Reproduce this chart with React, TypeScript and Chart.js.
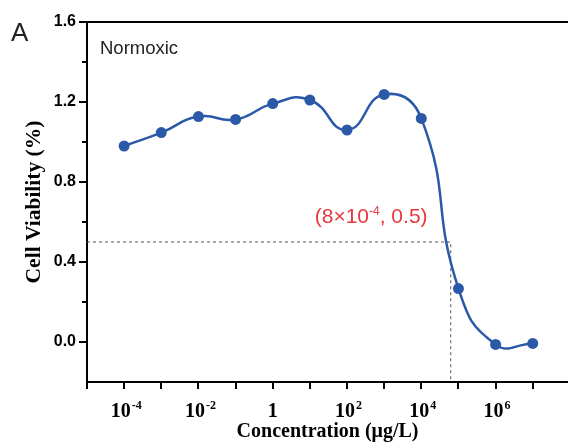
import React, { useEffect, useRef } from 'react';
import { Chart, registerables } from 'chart.js';

Chart.register(...registerables);

// Concentration (µg/L) and cell viability
const concentrations = [1e-4, 1e-3, 1e-2, 1e-1, 1, 1e1, 1e2, 1e3, 1e4, 1e5, 1e6, 1e7];
const viability = [0.98, 1.047, 1.127, 1.113, 1.192, 1.21, 1.06, 1.238, 1.118, 0.267, -0.012, -0.007];

// Axis ticks
const xTickExponents = [-5, -4, -3, -2, -1, 0, 1, 2, 3, 4, 5, 6, 7];
const xLabelExponents = [-4, -2, 0, 2, 4, 6];
const yMajorTicks = [0, 0.4, 0.8, 1.2, 1.6];
const yMinorTicks = [0.2, 0.6, 1.0, 1.4];

// Axis ranges
const xMin = 1e-5;
const xMax = 8.9e7;
const yMin = -0.2;
const yMax = 1.6;

// Half-viability guide
const guideX = 6.2e4;
const guideY = 0.5;

const lineColor = '#2b59a8';
const serifFamily = "'Liberation Serif', 'Times New Roman', serif";
const serifBold = `bold 20px ${serifFamily}`;
const serifSup = `bold 12px ${serifFamily}`;
const sans = "'Liberation Sans', Arial, sans-serif";

const overlayPlugin = {
  id: 'overlay',
  afterDraw(chart: Chart) {
    const { ctx, chartArea, scales } = chart;
    const x = scales.x;
    const y = scales.y;
    ctx.save();

    // top frame line
    ctx.strokeStyle = '#000';
    ctx.lineWidth = 2;
    ctx.beginPath();
    ctx.moveTo(chartArea.left - 1, chartArea.top);
    ctx.lineTo(chartArea.right, chartArea.top);
    ctx.stroke();

    // minor y ticks
    yMinorTicks.forEach((v) => {
      const py = Math.round(y.getPixelForValue(v));
      ctx.beginPath();
      ctx.moveTo(chartArea.left - 5, py);
      ctx.lineTo(chartArea.left, py);
      ctx.stroke();
    });

    // x tick labels with superscript exponents
    ctx.fillStyle = '#000';
    ctx.textBaseline = 'alphabetic';
    const base = chartArea.bottom + 35;
    xLabelExponents.forEach((e) => {
      const px = x.getPixelForValue(Math.pow(10, e));
      if (e === 0) {
        ctx.font = serifBold;
        ctx.textAlign = 'center';
        ctx.fillText('1', px, base);
        return;
      }
      const exp = String(e);
      ctx.textAlign = 'left';
      ctx.font = serifBold;
      const w1 = ctx.measureText('10').width;
      ctx.font = serifSup;
      const w2 = ctx.measureText(exp).width;
      const start = px - w1 / 2 - w2 / 3;
      ctx.font = serifBold;
      ctx.fillText('10', start, base);
      ctx.font = serifSup;
      ctx.fillText(exp, start + w1 + 1, base - 8);
    });

    // guide annotation
    const gx = x.getPixelForValue(guideX);
    const gy = y.getPixelForValue(guideY);
    ctx.fillStyle = '#e8383d';
    ctx.textAlign = 'left';
    let tx = gx - 136;
    const ty = gy - 19;
    ctx.font = `21px ${sans}`;
    ctx.fillText('(8×10', tx, ty);
    tx += ctx.measureText('(8×10').width;
    ctx.font = `12px ${sans}`;
    ctx.fillText('-4', tx, ty - 8);
    tx += ctx.measureText('-4').width;
    ctx.font = `21px ${sans}`;
    ctx.fillText(', 0.5)', tx, ty);

    // condition label and panel letter
    ctx.fillStyle = '#222';
    ctx.font = `18.5px ${sans}`;
    ctx.fillText('Normoxic', chartArea.left + 13, chartArea.top + 32);
    ctx.font = `26px ${sans}`;
    ctx.fillText('A', 11, 41);

    ctx.restore();
  },
};

export default function App() {
  const canvasRef = useRef<HTMLCanvasElement>(null);

  useEffect(() => {
    if (!canvasRef.current) return;

    const chart = new Chart(canvasRef.current, {
      type: 'line',
      data: {
        datasets: [
          {
            data: concentrations.map((c, i) => ({ x: c, y: viability[i] })),
            borderColor: lineColor,
            backgroundColor: lineColor,
            borderWidth: 2.5,
            tension: 0.5,
            pointRadius: 5.5,
            pointBorderWidth: 0,
            pointBackgroundColor: lineColor,
            fill: false,
          },
          {
            data: [
              { x: xMin, y: guideY },
              { x: guideX, y: guideY },
              { x: guideX, y: yMin },
            ],
            borderColor: '#555',
            borderWidth: 1,
            borderDash: [3, 3],
            pointRadius: 0,
            tension: 0,
            fill: false,
          },
        ],
      },
      options: {
        animation: false,
        responsive: true,
        maintainAspectRatio: false,
        layout: { autoPadding: false, padding: { top: 22, right: 0, bottom: 0, left: 0 } },
        plugins: {
          legend: { display: false },
          tooltip: { enabled: false },
        },
        scales: {
          x: {
            type: 'logarithmic',
            min: xMin,
            max: xMax,
            afterBuildTicks: (s: any) => {
              s.ticks = xTickExponents.map((e) => ({ value: Math.pow(10, e) }));
            },
            afterFit: (s: any) => {
              s.height = 65;
            },
            ticks: { display: false },
            grid: {
              drawOnChartArea: false,
              drawTicks: true,
              tickLength: 7,
              color: '#000',
              lineWidth: 2,
            },
            border: { display: true, color: '#000', width: 2 },
            title: {
              display: true,
              text: 'Concentration (μg/L)',
              color: '#000',
              font: { family: serifFamily, size: 20, weight: 'bold' },
              padding: { top: 0, bottom: 3 },
            },
          },
          y: {
            min: yMin,
            max: yMax,
            afterBuildTicks: (s: any) => {
              s.ticks = yMajorTicks.map((v) => ({ value: v }));
            },
            afterFit: (s: any) => {
              s.width = 87;
            },
            ticks: {
              callback: (v: any) => Number(v).toFixed(1),
              color: '#000',
              padding: 3,
              font: { family: sans, size: 16, weight: 'bold' },
            },
            grid: {
              drawOnChartArea: false,
              drawTicks: true,
              tickLength: 8,
              color: '#000',
              lineWidth: 2,
            },
            border: { display: true, color: '#000', width: 2 },
            title: {
              display: true,
              text: 'Cell Viability (%)',
              color: '#000',
              font: { family: serifFamily, size: 21.5, weight: 'bold' },
              padding: { top: 22, bottom: 0 },
            },
          },
        },
      },
      plugins: [overlayPlugin],
    });

    return () => {
      chart.destroy();
    };
  }, []);

  return (
    <div style={{ position: 'absolute', left: 0, top: 0, width: 568, height: 447, background: '#fff' }}>
      <canvas ref={canvasRef} />
    </div>
  );
}
